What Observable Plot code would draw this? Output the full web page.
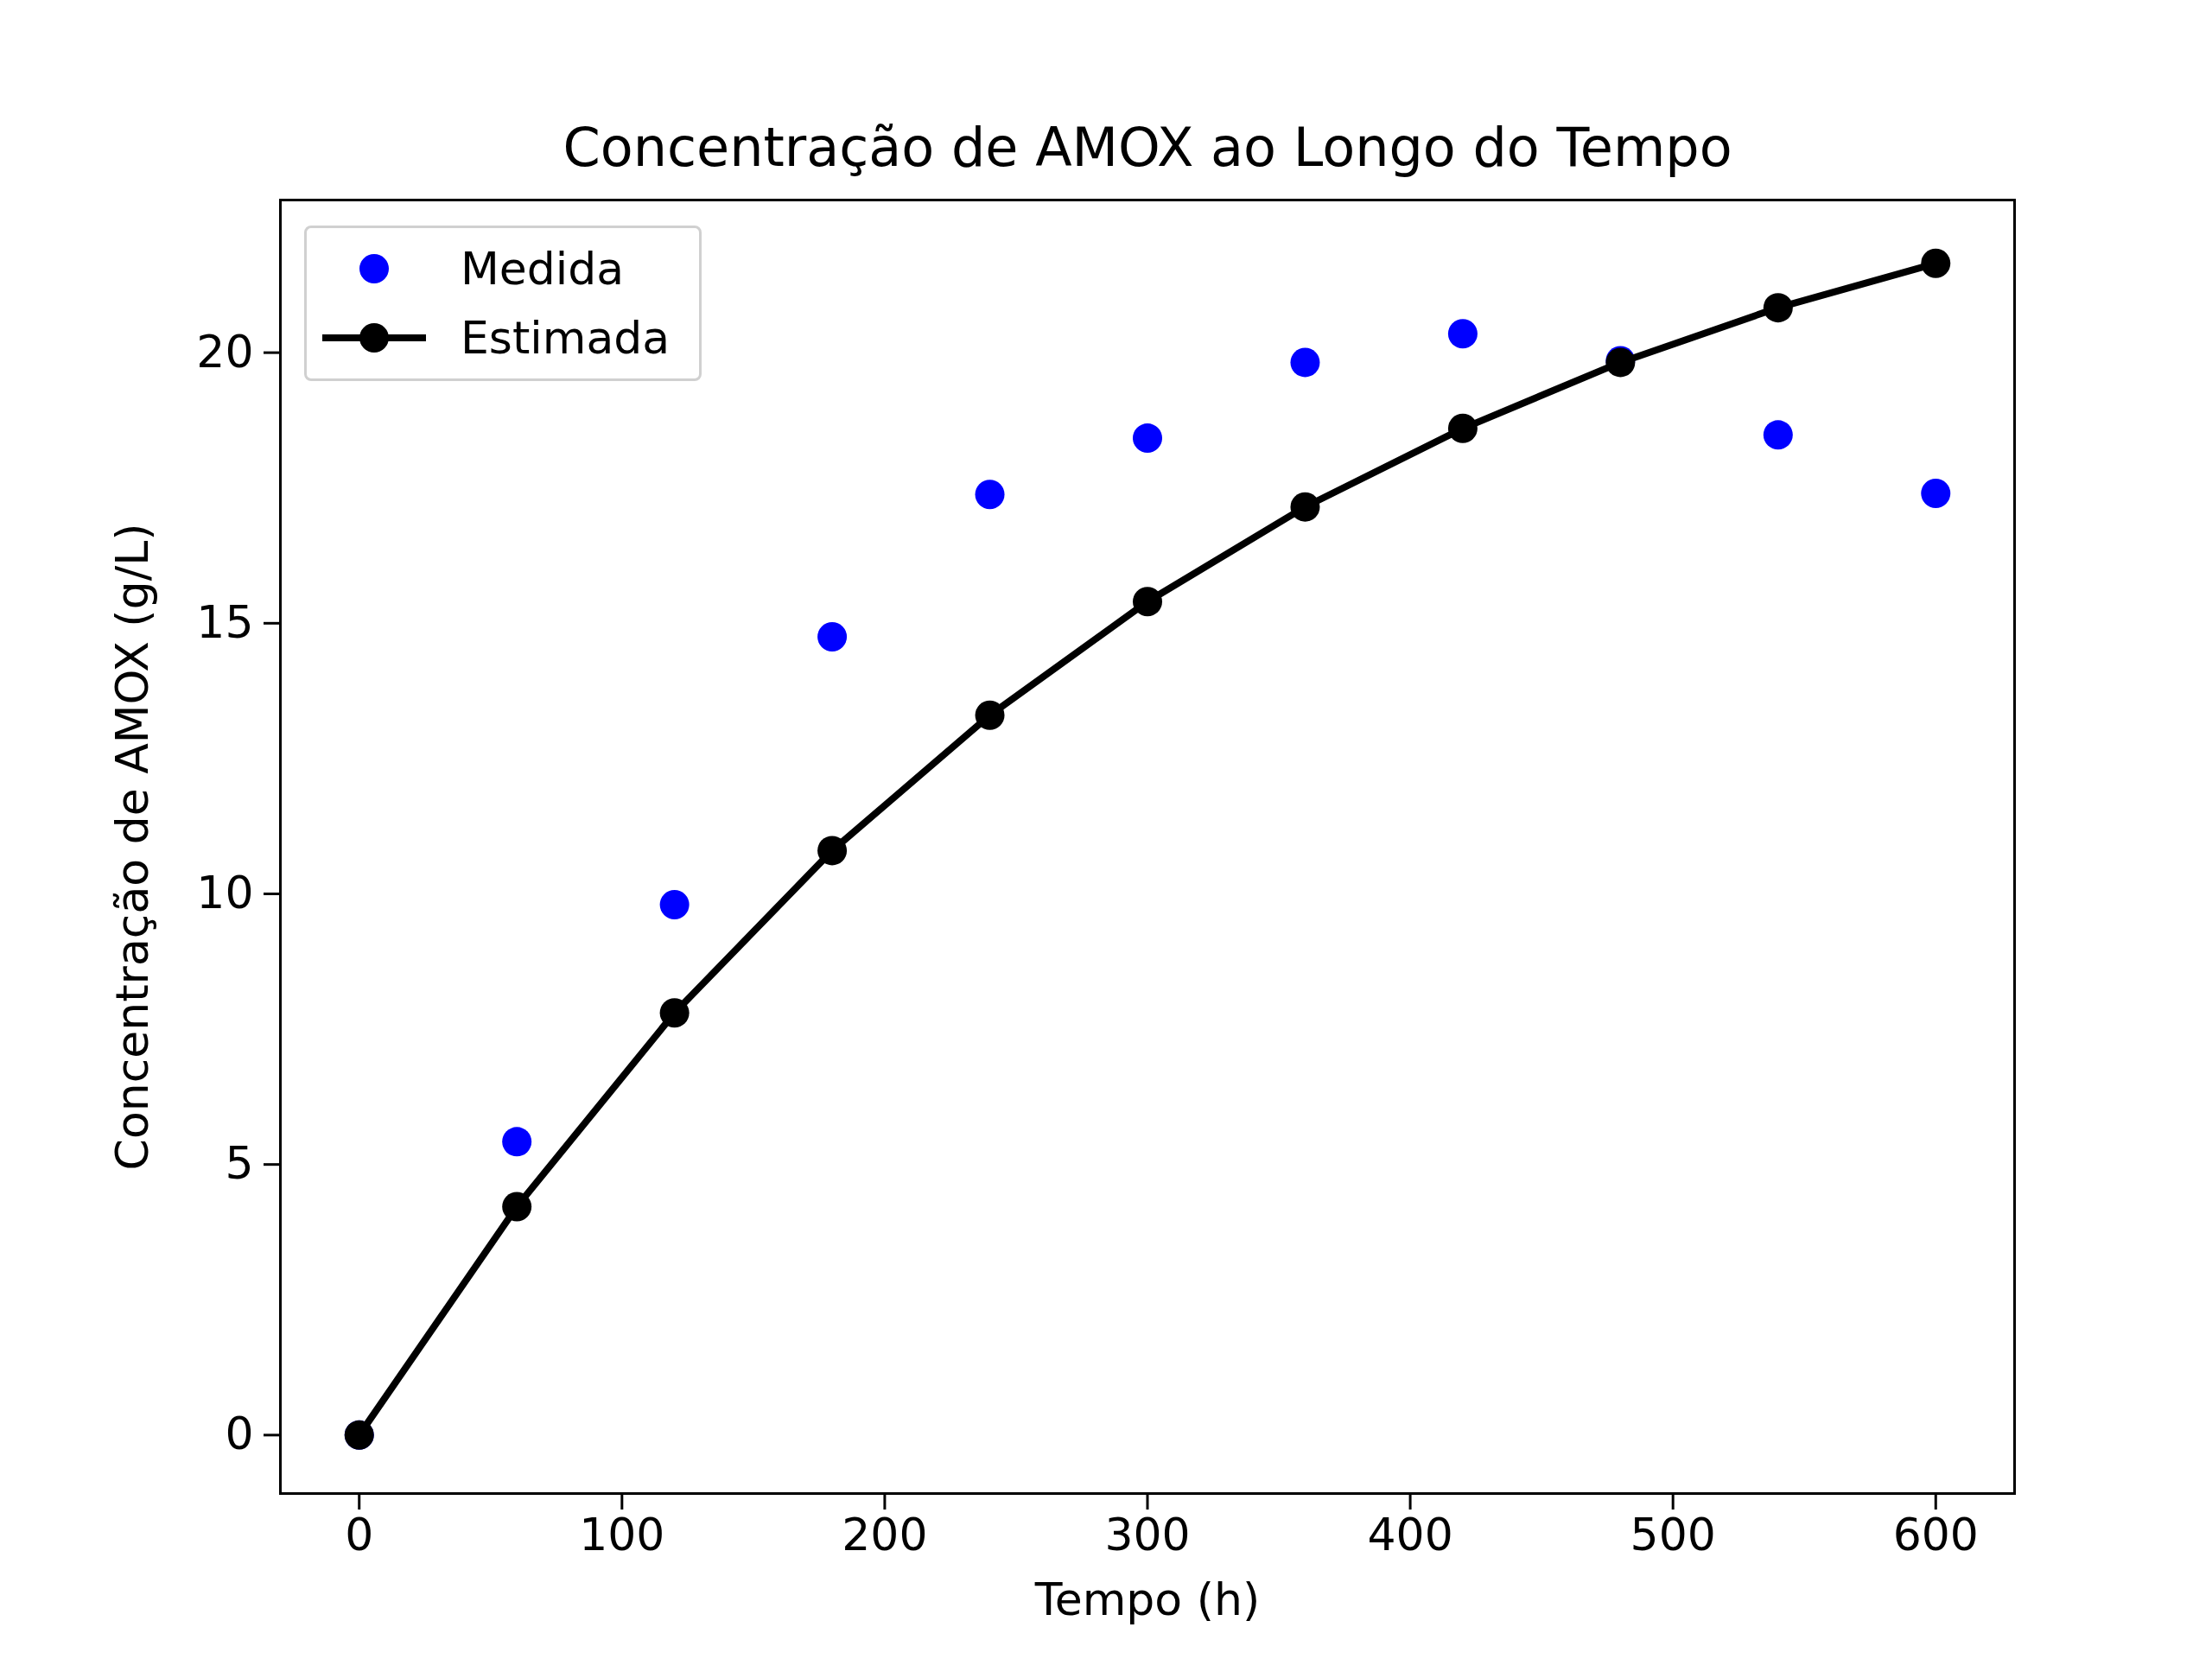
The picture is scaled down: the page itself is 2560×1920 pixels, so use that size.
<!DOCTYPE html>
<html>
<head>
<meta charset="utf-8">
<script src="https://cdn.jsdelivr.net/npm/d3@7"></script>
<script src="https://cdn.jsdelivr.net/npm/@observablehq/plot@0.6"></script>
<style>
  body { margin: 0; background: #fff; }
  #chart { position: relative; width: 2560px; height: 1920px; font-family: "DejaVu Sans", sans-serif; }
  #legend { position: absolute; left: 352px; top: 261px; width: 460px; height: 180px; box-sizing: border-box;
            border: 3px solid #d0d0d0; border-radius: 8px; background: rgba(255,255,255,0.8); font-size: 52px; }
  .row { position: absolute; left: 0; height: 70px; display: flex; align-items: center; }
  .row span { position: absolute; left: 178px; white-space: nowrap; }
</style>
</head>
<body>
<div id="chart">
  <div id="legend">
    <div class="row" style="top:12px"><svg width="170" height="70"><circle cx="78" cy="35" r="17" fill="#0000ff"/></svg><span>Medida</span></div>
    <div class="row" style="top:92px"><svg width="170" height="70"><line x1="18" x2="138" y1="35" y2="35" stroke="#000" stroke-width="8"/><circle cx="78" cy="35" r="17" fill="#000"/></svg><span>Estimada</span></div>
  </div>
</div>
<script>
// medidas
const tempoMedida = [0, 60, 120, 180, 240, 300, 360, 420, 480, 540, 600];
const concMedida = [0, 5.42, 9.8, 14.75, 17.38, 18.42, 19.82, 20.35, 19.85, 18.48, 17.4];
// estimadas
const tempoEstimada = [0, 60, 120, 180, 240, 300, 360, 420, 480, 540, 600];
const concEstimada = [0, 4.22, 7.8, 10.8, 13.3, 15.4, 17.15, 18.6, 19.82, 20.83, 21.65];

const xTicks = [0, 100, 200, 300, 400, 500, 600];
const yTicks = [0, 5, 10, 15, 20];

const medida = tempoMedida.map((t, i) => ({t, c: concMedida[i]}));
const estimada = tempoEstimada.map((t, i) => ({t, c: concEstimada[i]}));

const plot = Plot.plot({
  width: 2560,
  height: 1920,
  marginLeft: 324,
  marginRight: 229,
  marginTop: 231,
  marginBottom: 192,
  style: { fontFamily: "DejaVu Sans, sans-serif", fontSize: "52px", background: "transparent", overflow: "visible" },
  x: { domain: [-30, 630] },
  y: { domain: [-1.08, 22.82] },
  marks: [
    Plot.frame({ stroke: "#000", strokeWidth: 3 }),
    Plot.axisX({ ticks: xTicks, tickSize: 19, tickPadding: 10, strokeWidth: 3, fontSize: 52, label: "Tempo (h)", labelAnchor: "center", labelArrow: "none", labelOffset: 140 }),
    Plot.axisY({ ticks: yTicks, tickSize: 19, tickPadding: 12, strokeWidth: 3, fontSize: 52, label: "Concentração de AMOX (g/L)", labelAnchor: "center", labelArrow: "none", labelOffset: 190 }),
    Plot.dot(medida, { x: "t", y: "c", r: 17, fill: "#0000ff", stroke: "none" }),
    Plot.line(estimada, { x: "t", y: "c", stroke: "#000", strokeWidth: 8 }),
    Plot.dot(estimada, { x: "t", y: "c", r: 17, fill: "#000", stroke: "none" }),
    Plot.text(["Concentração de AMOX ao Longo do Tempo"], { frameAnchor: "top", dy: -84, fontSize: 62, fill: "#000" })
  ]
});

document.getElementById("chart").prepend(plot);
plot.style.position = "absolute";
plot.style.left = "0";
plot.style.top = "0";
</script>
</body>
</html>
